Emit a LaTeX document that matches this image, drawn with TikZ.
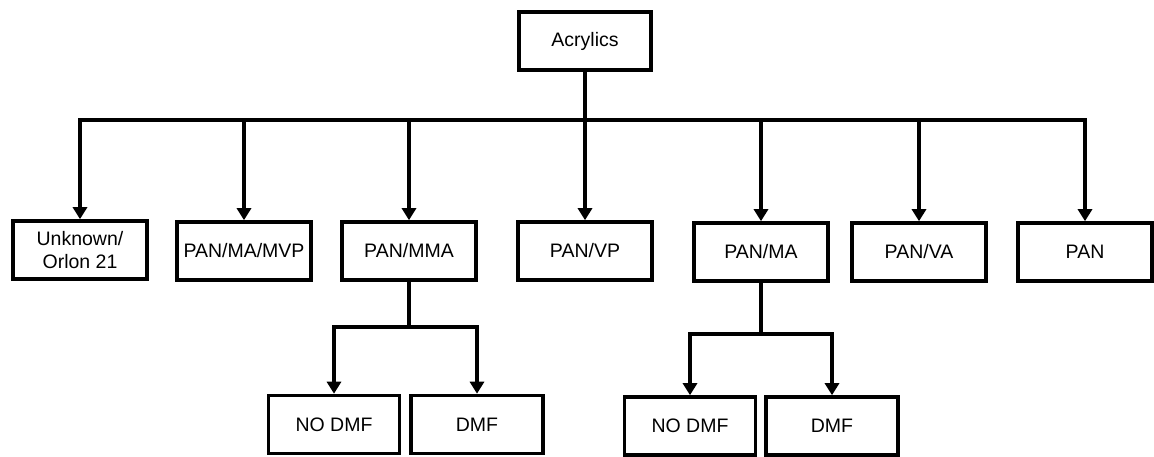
\documentclass[tikz,border=0pt]{standalone}
\usepackage{fontspec}
\setmainfont{Liberation Sans}
\usetikzlibrary{arrows.meta}
\begin{document}
\begin{tikzpicture}[x=1pt,y=-1pt,
  box/.style={draw,line width=3.6pt,minimum width=134pt,minimum height=58pt,inner sep=1pt,align=center,
    font=\fontsize{19.5}{23}\selectfont},
  conn/.style={line width=3.6pt,line cap=rect},
  arr/.style={line width=3.6pt,-{Triangle[width=14pt,length=12pt]}}]
\useasboundingbox (0,0) rectangle (1154,457);
\node[box,minimum width=132pt] (acr) at (585,41) {Acrylics};
\node[box] (b1) at (80,250) {Unknown/\\Orlon 21};
\node[box] (b2) at (244,251) {PAN/MA/MVP};
\node[box] (b3) at (409,251) {PAN/MMA};
\node[box] (b4) at (585,251) {PAN/VP};
\node[box] (b5) at (761,252) {PAN/MA};
\node[box] (b6) at (919,252) {PAN/VA};
\node[box] (b7) at (1085,252) {PAN};
\node[box,minimum width=131pt] (c1) at (334,424.5) {NO DMF};
\node[box,minimum width=132pt] (c2) at (477,424.5) {DMF};
\node[box,minimum width=131pt] (d1) at (690,426) {NO DMF};
\node[box,minimum width=132pt] (d2) at (832,426) {DMF};
\coordinate (bus) at (585,120);
\coordinate (busL) at (409,327);
\coordinate (busR) at (761,334);
\draw[conn] (acr.south) -- (bus);
\draw[conn] (b1 |- bus) -- (b7 |- bus);
\foreach \n in {b1,b2,b3,b4,b5,b6,b7} \draw[arr] (\n |- bus) -- (\n.north);
\draw[conn] (b3.south) -- (busL);
\draw[conn] (c1 |- busL) -- (c2 |- busL);
\draw[arr] (c1 |- busL) -- (c1.north);
\draw[arr] (c2 |- busL) -- (c2.north);
\draw[conn] (b5.south) -- (busR);
\draw[conn] (d1 |- busR) -- (d2 |- busR);
\draw[arr] (d1 |- busR) -- (d1.north);
\draw[arr] (d2 |- busR) -- (d2.north);
\end{tikzpicture}
\end{document}
